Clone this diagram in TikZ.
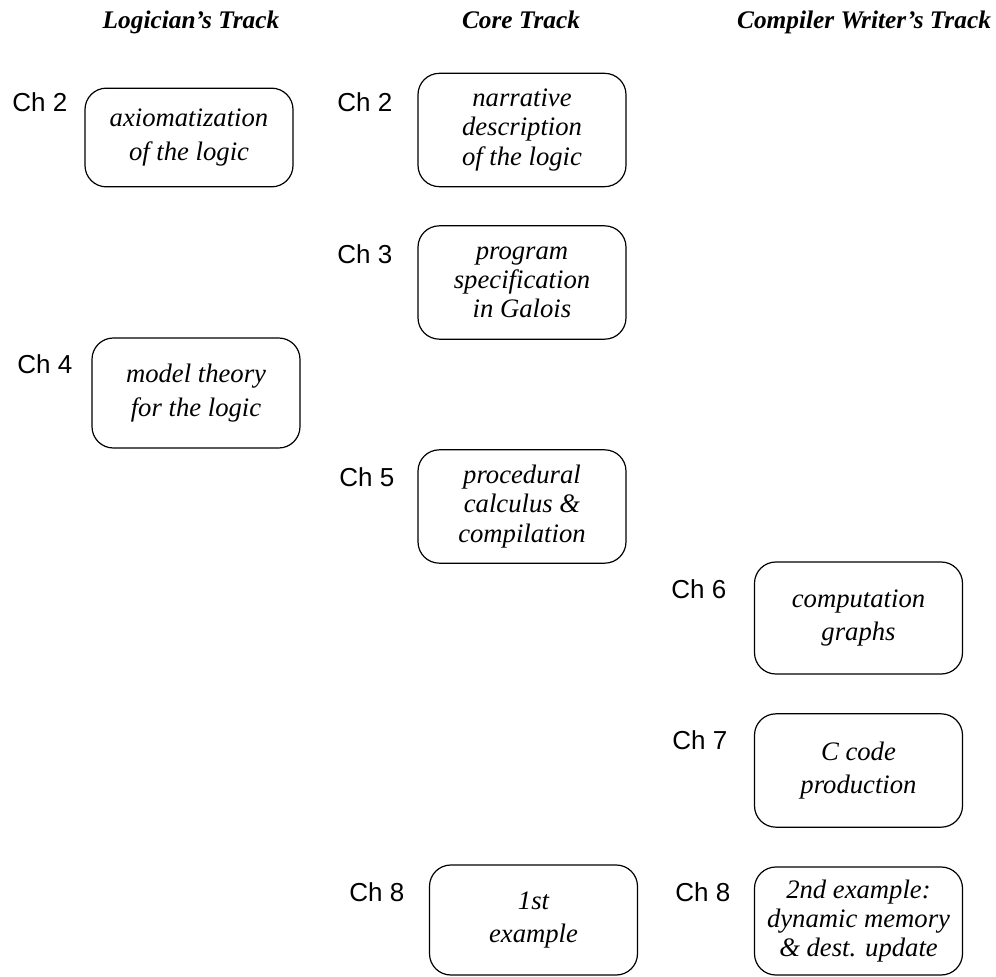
\documentclass[tikz,border=0pt]{standalone}
\usepackage{fontspec}
\setmainfont{Liberation Serif}
\newfontfamily\chfont{Liberation Sans}
\begin{document}
\begin{tikzpicture}[x=0.75pt,y=-0.75pt,
  chapbox/.style={draw,line width=.9pt,rounded corners=16pt,align=center,inner sep=0pt,
    minimum width=156pt,font=\itshape\fontsize{20}{22}\selectfont},
  twoline/.style={font=\itshape\fontsize{20}{25}\selectfont},
  chlabel/.style={font=\chfont\fontsize{19.5}{22}\selectfont,anchor=east},
  track/.style={font=\bfseries\itshape\fontsize{19}{22}\selectfont,anchor=base}]
\path[use as bounding box] (0,0) rectangle (996,977);
% track headings
\node[track] (tlog) at (191,29) {Logician's Track};
\node[track] (tcore) at (521,29) {Core Track};
\node[track] (tcomp) at (864,29) {Compiler Writer's Track};
% logician's track
\node[chapbox,twoline,minimum height=74pt] (axiom) at (189,137.5) {axiomatization\\of the logic};
\node[chlabel] (laxiom) at (72,102) {Ch 2};
\node[chapbox,twoline,minimum height=82.5pt] (model) at (196,393) {model theory\\for the logic};
\node[chlabel] (lmodel) at (77,364) {Ch 4};
% core track
\node[chapbox,minimum height=85pt] (narr) at (522,130) {narrative\\description\\of the logic};
\node[chlabel] (lnarr) at (397,102) {Ch 2};
\node[chapbox,minimum height=85pt] (spec) at (522,282.5) {program\\specification\\in Galois};
\node[chlabel] (lspec) at (397,254) {Ch 3};
\node[chapbox,minimum height=85pt] (proc) at (522,506.5) {procedural\\calculus \&\\compilation};
\node[chlabel] (lproc) at (399,477) {Ch 5};
\node[chapbox,twoline,minimum height=82.5pt] (exone) at (533.5,920) {1st\\example};
\node[chlabel] (lexone) at (409,892) {Ch 8};
% compiler writer's track
\node[chapbox,twoline,minimum height=84pt] (graphs) at (858.5,618) {computation\\graphs};
\node[chlabel] (lgraphs) at (731,589) {Ch 6};
\node[chapbox,twoline,minimum height=85pt] (ccode) at (858.5,770.5) {C code\\production};
\node[chlabel] (lccode) at (732,740) {Ch 7};
\node[chapbox,minimum height=81pt] (extwo) at (858.5,921) {2nd example:\\dynamic memory\\\& dest. update};
\node[chlabel] (lextwo) at (735,892) {Ch 8};
\end{tikzpicture}
\end{document}
